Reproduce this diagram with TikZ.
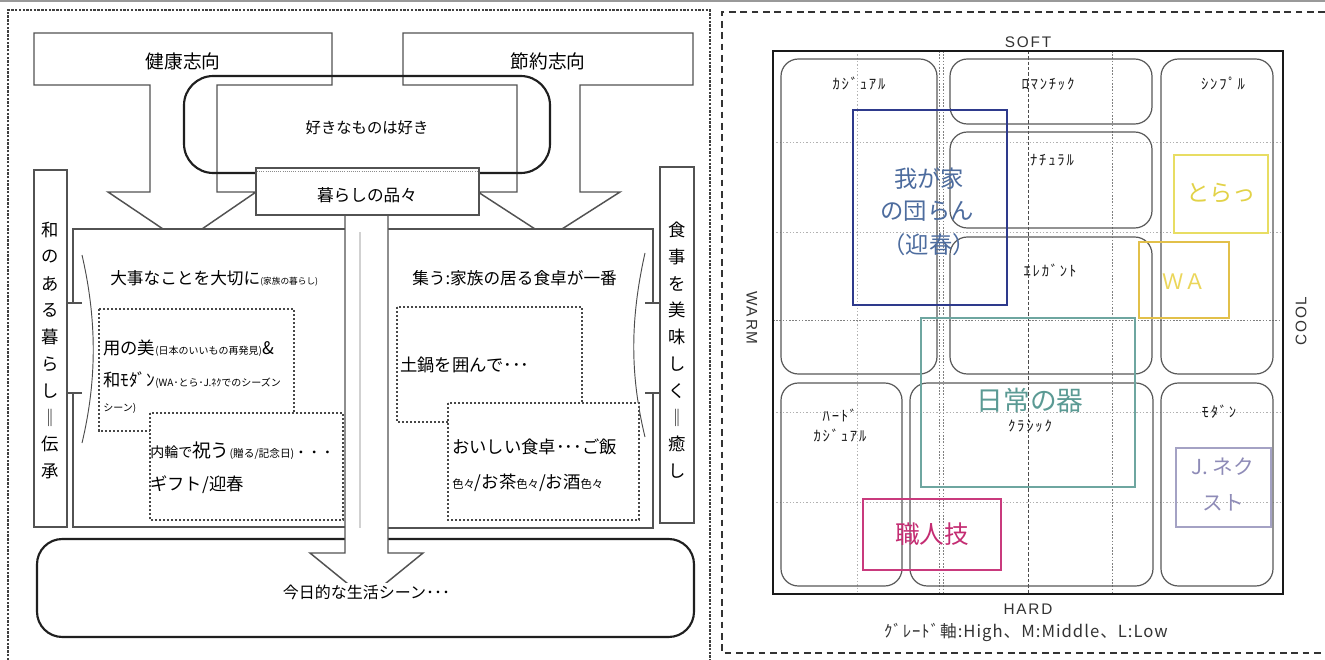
\documentclass[tikz,border=0pt]{standalone}
\usepackage{fontspec}
\setmainfont{Liberation Sans}
\newfontfamily\jp{Noto Sans CJK JP}
\newfontfamily\jpc{Noto Sans CJK JP}
\newfontfamily\jpsp[LetterSpace=12]{Noto Sans CJK JP}
\newfontfamily\jpgr[LetterSpace=6]{Noto Sans CJK JP}
\newfontfamily\lsp[LetterSpace=12]{Liberation Sans}
\newcommand\fsz[1]{\fontsize{#1}{#1}\selectfont}
\definecolor{bluebox}{HTML}{2E3A8C}
\definecolor{bluetxt}{HTML}{4D6C9E}
\definecolor{yelbox}{HTML}{E8DD63}
\definecolor{yeltxt}{HTML}{E2D247}
\definecolor{wabox}{HTML}{E2C04A}
\definecolor{watxt}{HTML}{EBD65A}
\definecolor{tealbox}{HTML}{6EA6A0}
\definecolor{tealtxt}{HTML}{5B9A94}
\definecolor{jnbox}{HTML}{A4A2C4}
\definecolor{jntxt}{HTML}{8E8BB7}
\definecolor{magbox}{HTML}{C93A7D}
\definecolor{magtxt}{HTML}{C42C72}
\begin{document}
\begin{tikzpicture}[x=0.75pt,y=-0.75pt,
  lin/.style={draw=black!68, line width=1.1pt},
  thinl/.style={draw=black!70, line width=0.7pt},
  heavy/.style={draw=black!88, line width=1.6pt},
  dbox/.style={draw=black!72, line width=0.8pt, dash pattern=on 1.8pt off 1.2pt},
  gridl/.style={draw=black!30, line width=0.5pt, dash pattern=on 1pt off 1.5pt},
  gridm/.style={draw=black!50, line width=0.6pt, dash pattern=on 1.2pt off 1.2pt},
  axisl/.style={draw=black!70, line width=0.6pt, dash pattern=on 2.5pt off 1.5pt},
  cat/.style={draw=black!65, line width=0.9pt, rounded corners=13pt},
  jt/.style={font=\jp, inner sep=0pt, anchor=west},
  ct/.style={font=\jp, inner sep=0pt},
  cc/.style={font=\jpc, inner sep=0pt},
  vch/.style={font=\jp\fsz{13}, inner sep=0pt},
  klab/.style={font=\jpsp\fsz{11}, inner sep=0pt, text=black!90},
  axl/.style={font=\lsp\fsz{11.5}, inner sep=0pt, text=black!80},
  clr/.style={line width=0.8pt},
]
\useasboundingbox (0,0) rectangle (1325,660);
\fill[white] (0,0) rectangle (1325,660);
% top rule and panel borders
\draw[black!40, line width=1.5pt] (0,1) -- (1325,1);
\draw[draw=black!75, line width=1pt, dash pattern=on 1.8pt off 1pt] (8,660) -- (8,10) -- (710,10) -- (710,660);
\draw[draw=black!80, line width=1.1pt, dash pattern=on 5pt off 3.5pt] (1325,12) -- (722,12) -- (722,653) -- (1325,653);

% ===== LEFT PANEL =====
% block arrows from the top
\draw[lin] (163,229) -- (108,192) -- (150,192) -- (150,85) -- (34,85) -- (34,33) -- (332,33) -- (332,85) -- (217,85) -- (217,192) -- (256,192) -- (202,229);
\draw[lin] (535,229) -- (478,192) -- (517,192) -- (517,85) -- (403,85) -- (403,33) -- (693,33) -- (693,85) -- (580,85) -- (580,192) -- (620,192) -- (562,229);
\node[ct, font=\jp\fsz{14}] (kenko) at (183,61) {健康志向};
\node[ct, font=\jp\fsz{14}] (setsu) at (548,61) {節約志向};
% rounded box
\draw[heavy, rounded corners=22pt] (184,76) rectangle (550,173);
\node[ct, font=\jp\fsz{11.5}] (suki) at (367,128) {好きなものは好き};
% bottom rounded box
\draw[heavy, rounded corners=19pt] (37,539) rectangle (694,637);
% side vertical boxes
\draw[lin] (34,170) rectangle (67,527);
\draw[lin] (660,167) rectangle (694,523);
% content boxes
\draw[lin] (345,229) -- (73,229) -- (73,303);
\draw[lin] (73,393) -- (73,527) -- (345,527);
\draw[lin] (67,303) -- (82,303);
\draw[lin] (67,393) -- (82,393);
\draw[thinl] (82,255) .. controls (97,320) and (97,380) .. (82,443);
\draw[lin] (388,229) -- (653,229) -- (653,303);
\draw[lin] (653,393) -- (653,528) -- (388,528);
\draw[lin] (660,303) -- (645,303);
\draw[lin] (660,393) -- (645,393);
\draw[thinl] (645,253) .. controls (630,320) and (630,375) .. (645,437);
% central stem arrow
\draw[lin, fill=white] (345,215) -- (345,553) -- (310,553) -- (366.5,599) -- (423,553) -- (388,553) -- (388,215);
\draw[black!18, line width=0.8pt] (360,232) -- (360,528);
% kurashi box
\draw[lin, fill=white] (256,168) rectangle (479,215);
\draw[black!45, line width=0.6pt, densely dotted] (257,171.5) -- (478,171.5);
\node[ct, font=\jp\fsz{12.5}] (kurashi) at (367,195) {暮らしの品々};
\node[ct, font=\jp\fsz{12}, fill=white, inner sep=1pt] (konnichi) at (366.5,592) {今日的な生活シーン･･･};
% dashed inner boxes
\draw[dbox] (99,309) rectangle (294,431);
\draw[dbox, fill=white] (150,413) rectangle (343,520);
\draw[dbox] (397,307) rectangle (582,422);
\draw[dbox, fill=white] (448,403) rectangle (639,520);
% texts left
\node[jt] (t1) at (110,278) {\fsz{12.5}大事なことを大切に\fsz{6.5}(家族の暮らし)};
\node[jt] (t2) at (103,348) {\fsz{13}用の美\fsz{7.5}(日本のいいもの再発見)\fsz{13}\&};
\node[jt] (t3) at (103,380) {\fsz{13}和ﾓﾀﾞﾝ\fsz{7.5}(WA･とら･J.ﾈｸでのシーズン};
\node[jt] (t4) at (103,408) {\fsz{7.5}シーン)};
\node[jt] (t5) at (150,451) {\fsz{10.5}内輪で\fsz{14}祝う\fsz{8}(贈る/記念日)\fsz{10}・・・};
\node[jt] (t6) at (150,485) {\fsz{13}ギフト/迎春};
% texts right
\node[jt] (t7) at (412,278) {\fsz{12.5}集う:家族の居る食卓が一番};
\node[jt] (t8) at (400,365) {\fsz{13}土鍋を囲んで･･･};
\node[jt] (t9) at (452,447) {\fsz{13}おいしい食卓･･･ご飯};
\node[jt] (t10) at (452,483) {\fsz{8.5}色々\fsz{13}/お茶\fsz{8.5}色々\fsz{13}/お酒\fsz{8.5}色々};
% vertical texts
\foreach \c [count=\i from 0] in {和,の,あ,る,暮,ら,し,‖,伝,承}
  \node[vch] (wa\i) at (50.5,230+26.8*\i) {\c};
\foreach \c [count=\i from 0] in {食,事,を,美,味,し,く,‖,癒,し}
  \node[vch] (sh\i) at (677,230+26.8*\i) {\c};

% ===== RIGHT PANEL =====
% grid
\foreach \yy in {142,232,412,502} \draw[gridl] (773,\yy) -- (1283,\yy);
\draw[gridm] (773,320) -- (1283,320);
\draw[gridl] (857,51) -- (857,594);
\draw[gridm] (939,51) -- (939,594);
\draw[gridm] (943,51) -- (943,594);
\draw[axisl] (1028,51) -- (1028,594);
\draw[gridm] (1112,51) -- (1112,594);
% frame
\draw[black!90, line width=1.2pt] (773,51) rectangle (1283,594);
% category boxes
\draw[cat] (781,59) rectangle (937,374);
\draw[cat] (950,59) rectangle (1152,124);
\draw[cat] (1161,59) rectangle (1273,374);
\draw[cat] (950,132) rectangle (1152,228);
\draw[cat] (950,237) rectangle (1152,374);
\draw[cat] (781,383) rectangle (902,586);
\draw[cat] (910,383) rectangle (1153,586);
\draw[cat] (1161,383) rectangle (1273,586);
\node[klab] (k1) at (859,84) {ｶｼﾞｭｱﾙ};
\node[klab] (k2) at (1048,84) {ﾛﾏﾝﾁｯｸ};
\node[klab] (k3) at (1223,84) {ｼﾝﾌﾟﾙ};
\node[klab] (k4) at (1052,160) {ﾅﾁｭﾗﾙ};
\node[klab] (k5) at (1050,270) {ｴﾚｶﾞﾝﾄ};
\node[klab] (k6) at (840,415) {ﾊｰﾄﾞ};
\node[klab] (k7) at (840,436) {ｶｼﾞｭｱﾙ};
\node[klab] (k8) at (1030,426) {ｸﾗｼｯｸ};
\node[klab] (k9) at (1219,412) {ﾓﾀﾞﾝ};
% coloured boxes
\draw[clr, draw=bluebox] (853,110) rectangle (1007,305);
\node[cc, text=bluetxt, font=\jpc\fsz{17.5}] (c1a) at (929,179) {我が家};
\node[cc, text=bluetxt, font=\jpc\fsz{17.5}] (c1b) at (927,211) {の団らん};
\node[cc, text=bluetxt, font=\jpc\fsz{17.5}] (c1c) at (929,245) {（迎春）};
\draw[clr, draw=yelbox] (1174,155) rectangle (1268,233);
\node[cc, text=yeltxt, font=\jpc\fsz{17.5}] (c2) at (1221,193) {とらっ};
\draw[clr, draw=wabox] (1139,242) rectangle (1229,318);
\node[cc, text=watxt, font=\jpc\fsz{16}] (c3) at (1184,282) {ＷＡ};
\draw[clr, draw=tealbox] (921,318) rectangle (1135,487);
\node[cc, text=tealtxt, font=\jpc\fsz{20}] (c4) at (1030,400) {日常の器};
\draw[clr, draw=jnbox] (1176,448) rectangle (1271,527);
\node[cc, text=jntxt, font=\jpc\fsz{15.5}] (c5a) at (1223,467) {J. ネク};
\node[cc, text=jntxt, font=\jpc\fsz{15.5}] (c5b) at (1223,503) {スト};
\draw[clr, draw=magbox] (863,499) rectangle (1001,570);
\node[cc, text=magtxt, font=\jpc\fsz{18.5}] (c6) at (932,534) {職人技};
% axis labels
\node[axl] (soft) at (1028,42) {SOFT};
\node[axl] (hard) at (1028,609) {HARD};
\node[axl, rotate=-90] (warm) at (752,318) {WARM};
\node[axl, rotate=90] (cool) at (1301,321) {COOL};
\node[cc, font=\jpgr\fsz{12.5}, text=black!80] (grade) at (1026,632) {ｸﾞﾚｰﾄﾞ軸:High、M:Middle、L:Low};
\end{tikzpicture}
\end{document}
